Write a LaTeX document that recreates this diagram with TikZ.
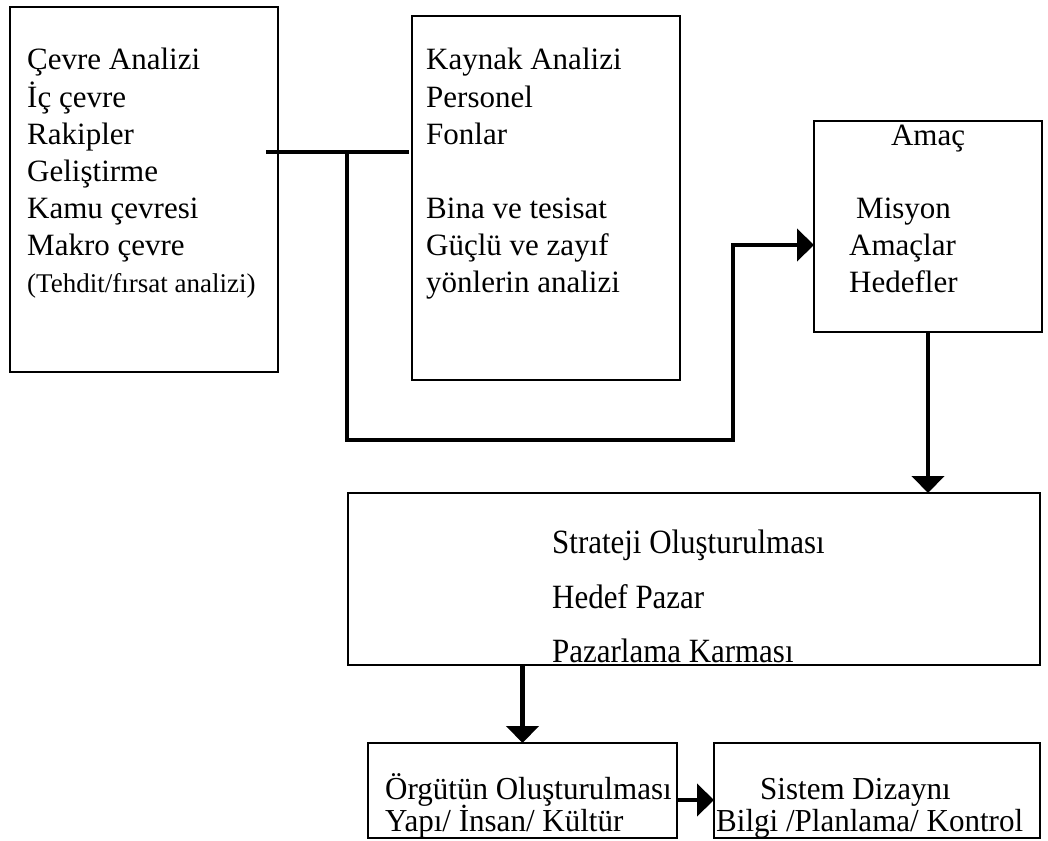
\documentclass[tikz,border=0pt]{standalone}
\usepackage{fontspec}
\setmainfont{Liberation Serif}
\newfontfamily\tallfont[FakeStretch=0.91]{Liberation Serif}
\newfontfamily\botfont[FakeStretch=0.97]{Liberation Serif}
\usetikzlibrary{arrows.meta,calc}
\begin{document}
\begin{tikzpicture}[x=1pt,y=-1pt,
  box/.style={draw=black,line width=1.6pt,inner sep=0pt,outer sep=0pt},
  txt/.style={anchor=base west,inner sep=0pt,font=\fontsize{31}{37}\selectfont},
  ttxt/.style={anchor=base west,inner sep=0pt,font=\tallfont\fontsize{34}{37}\selectfont},
  btxt/.style={anchor=base west,inner sep=0pt,font=\botfont\fontsize{32}{34}\selectfont},
  small/.style={anchor=base west,inner sep=0pt,font=\fontsize{27}{32}\selectfont},
  conn/.style={line width=4.6pt,line cap=rect},
  arr/.style={line width=4.6pt,-{Triangle[length=17pt,width=32pt]}}
]
\useasboundingbox (0,0) rectangle (1048,840);
\fill[white] (0,0) rectangle (1048,840);
% boxes
\node[box,minimum width=268pt,minimum height=365pt] (b1) at (144,189.5) {};
\node[box,minimum width=268pt,minimum height=364pt] (b2) at (546,198) {};
\node[box,minimum width=228pt,minimum height=211pt] (b3) at (928,226.5) {};
\node[box,minimum width=692pt,minimum height=172pt] (b4) at (694,579) {};
\node[box,minimum width=309pt,minimum height=95pt] (b5) at (522.5,790.5) {};
\node[box,minimum width=326pt,minimum height=95pt] (b6) at (877,790.5) {};
% texts box 1
\node[txt] (t11) at (27,70) {Çevre Analizi};
\node[txt] (t12) at (27,107) {İç çevre};
\node[txt] (t13) at (27,144) {Rakipler};
\node[txt] (t14) at (27,181) {Geliştirme};
\node[txt] (t15) at (27,218) {Kamu çevresi};
\node[txt] (t16) at (27,255) {Makro çevre};
\node[small] (t17) at (27,292) {(Tehdit/fırsat analizi)};
% texts box 2
\node[txt] (t21) at (426,70) {Kaynak Analizi};
\node[txt] (t22) at (426,107) {Personel};
\node[txt] (t23) at (426,144) {Fonlar};
\node[txt] (t24) at (426,218) {Bina ve tesisat};
\node[txt] (t25) at (426,255) {Güçlü ve zayıf};
\node[txt] (t26) at (426,292) {yönlerin analizi};
% texts box 3
\node[txt,anchor=base] (t31) at (928,145) {Amaç};
\node[txt] (t32) at (856,218) {Misyon};
\node[txt] (t33) at (849,255) {Amaçlar};
\node[txt] (t34) at (849,292) {Hedefler};
% texts box 4
\node[ttxt] (t41) at (552,553) {Strateji Oluşturulması};
\node[ttxt] (t42) at (552,608) {Hedef Pazar};
\node[ttxt] (t43) at (552,662) {Pazarlama Karması};
% texts box 5, 6
\node[btxt] (t51) at (385,799) {Örgütün Oluşturulması};
\node[btxt] (t52) at (385,831) {Yapı/ İnsan/ Kültür};
\node[btxt] (t61) at (760,799) {Sistem Dizaynı};
\node[btxt] (t62) at (716,831) {Bilgi /Planlama/ Kontrol};
% connectors
\coordinate (ja) at ($(b1.east)+(-10,0)$);
\coordinate (jb) at ($(b2.west)+(-5,0)$);
\coordinate (jt) at (347,152);
\coordinate (jl) at (347,440);
\coordinate (jr) at (733,440);
\draw[conn] (ja |- jt) -- (jb |- jt);
\draw[conn] (jt) -- (jl) -- (jr) -- (jr |- 0,245);
\draw[arr] (jr |- 0,245) -- (b3.west |- 0,245);
\draw[arr] (b3.south) -- (b4.north -| b3.south);
\draw[arr] (b4.south -| b5.north) -- (b5.north);
\draw[arr] (b5.east |- 0,800) -- (b6.west |- 0,800);
\end{tikzpicture}
\end{document}
